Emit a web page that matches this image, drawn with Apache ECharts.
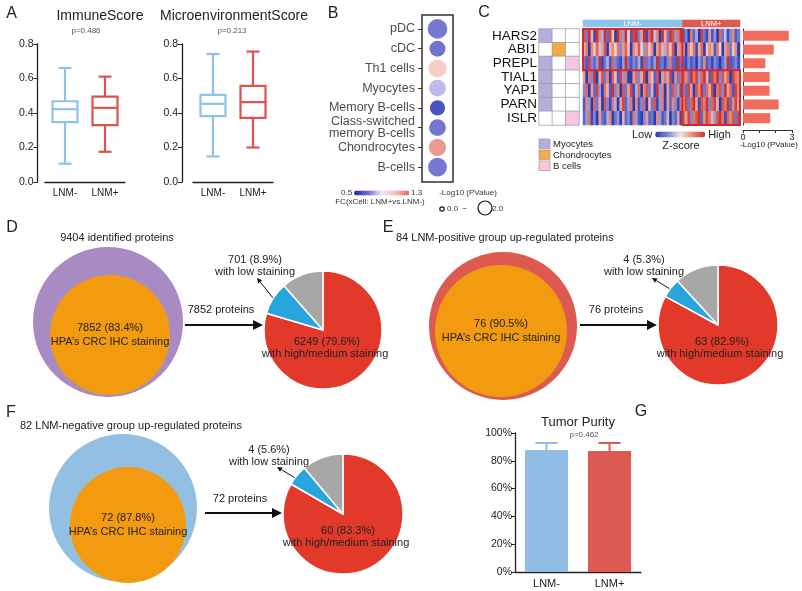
<!DOCTYPE html>
<html><head><meta charset="utf-8">
<script src="https://cdn.jsdelivr.net/npm/echarts/dist/echarts.min.js"></script>
<style>html,body{margin:0;padding:0;background:#fff}#c{width:802px;height:591px}</style>
</head><body><div id="c"></div><script>
const FONT = "'Liberation Sans', Arial, Helvetica, sans-serif";
// ---------- Panel A ----------
const groups = ['LNM-', 'LNM+'];
const groupColors = ['#8ec3e6', '#d9534f'];
const immuneBox = [[0.106, 0.347, 0.422, 0.468, 0.661], [0.175, 0.330, 0.430, 0.495, 0.611]];
const microBox = [[0.148, 0.382, 0.453, 0.505, 0.742], [0.200, 0.372, 0.463, 0.557, 0.756]];
// ---------- Panel B ----------
const cellTypes = ['pDC', 'cDC', 'Th1 cells', 'Myocytes', 'Memory B-cells', 'Class-switched\nmemory B-cells', 'Chondrocytes', 'B-cells'];
const cellFC = [0.64, 0.62, 1.1, 0.8, 0.5, 0.63, 1.25, 0.64];
const cellLogP = [1.95, 1.5, 1.75, 1.6, 1.4, 1.6, 1.65, 1.85];
// ---------- Panel C ----------
const genes = ['HARS2', 'ABI1', 'PREPL', 'TIAL1', 'YAP1', 'PARN', 'ISLR'];
const geneLogP = [2.8, 1.88, 1.37, 1.63, 1.63, 2.18, 1.67];
const annotTypes = ['Myocytes', 'Chondrocytes', 'B cells'];
const annotColors = ['#b5aedb', '#f4a94b', '#f8c6e2'];
const geneAnnot = [[1, 0, 0], [0, 1, 0], [1, 0, 1], [1, 0, 0], [1, 0, 0], [1, 0, 0], [0, 0, 1]];
const nNeg = 38, nPos = 22;
const zHARS2 = [0.8,-0.6,1.2,0.3,-0.9,1.0,0.5,-0.3,1.3,-0.7,0.9,0.2,-1.0,1.1,0.6,-0.4,1.4,0.1,-0.8,0.9,1.2,-0.5,0.4,1.0,-0.9,0.7,1.3,-0.2,0.5,-1.1,1.0,0.3,-0.6,1.2,0.8,-0.4,0.6,1.1,
  -0.8,-0.5,-1.0,0.6,-0.7,-0.3,-1.1,0.9,-0.6,-0.9,0.4,-0.8,-0.4,-1.0,0.7,-0.6,-0.2,-0.9,-0.5,0.5,-0.8,-0.6];
const zABI1 = [0.3,0.6,-1.4,0.5,0.2,0.7,-0.2,0.4,0.8,-1.6,0.3,0.5,0.1,0.6,-0.5,0.4,0.7,0.2,-1.2,0.5,0.3,0.8,0.1,-0.4,0.6,0.2,0.5,-1.5,0.4,0.7,0.3,-0.3,0.6,0.2,0.8,-1.0,0.4,0.5,
  0.4,-1.2,0.5,0.2,0.6,-0.9,0.3,0.7,-1.5,0.2,0.5,0.3,-0.8,0.6,0.1,-1.3,0.4,0.6,-0.6,0.2,0.5,-1.0];
const zPREPL = [-0.6,-0.8,0.9,-0.5,-0.7,-0.4,1.1,-0.9,-0.6,-0.3,-0.8,0.7,-0.5,-0.7,-0.9,-0.4,1.3,-0.6,-0.8,-0.5,-0.7,-0.3,-0.9,0.8,-0.6,-0.5,-0.8,-0.4,1.0,-0.7,-0.6,-0.9,-0.5,0.6,-0.7,-0.8,1.2,-0.6,
  -0.7,-0.9,-0.5,-0.8,-0.6,-1.0,-0.4,-0.7,0.5,-0.8,-0.6,-0.9,-0.5,-0.7,-1.2,-0.6,-0.4,1.0,-0.8,-0.7,-0.5,-0.9];
const zTIAL1 = [0.4,-1.0,0.6,-0.5,1.0,-1.4,0.3,0.8,-0.6,0.5,-1.6,0.7,0.2,-0.8,0.9,-0.4,0.6,-1.8,-1.2,0.4,0.7,-0.5,0.3,0.9,-1.0,0.5,0.2,-0.7,0.8,-1.3,0.4,0.6,-0.3,0.9,-0.9,0.5,-0.6,0.7,
  0.8,0.5,-0.6,1.0,0.6,0.9,-0.4,0.7,1.1,0.3,-0.8,0.9,0.6,1.0,-0.5,0.8,0.4,0.7,-1.2,0.9,0.6,0.5];
const zYAP1 = [-0.5,0.7,-1.2,0.4,-0.7,0.9,-0.4,-1.0,0.6,0.3,-0.8,1.0,-0.5,0.5,-1.3,0.8,-0.6,0.4,0.9,-0.9,-0.3,0.7,-1.1,0.5,0.8,-0.6,0.3,-0.9,1.0,-0.4,0.6,-1.4,0.4,-0.7,0.8,-0.5,0.5,-0.8,
  0.6,-0.7,0.9,0.4,-1.0,0.8,0.5,1.0,-0.6,0.7,0.3,0.9,-1.3,0.6,0.8,-0.5,1.0,0.4,0.7,-0.8,0.9,0.5];
const zPARN = [-0.8,0.5,-0.4,-1.0,0.7,-0.6,0.3,-1.2,0.8,-0.5,-0.9,0.6,-0.3,-1.1,0.4,0.9,-0.7,-0.4,0.6,-1.3,0.5,-0.8,-0.5,0.7,-1.0,0.3,-0.6,0.8,-0.9,-0.4,0.6,-1.1,0.4,-0.7,0.5,-0.5,-0.9,0.6,
  0.5,0.9,-0.6,0.7,1.0,0.4,-0.9,0.8,0.6,1.1,-0.5,0.7,0.9,0.3,-1.0,0.8,0.6,1.0,-0.7,0.5,0.9,0.4];
const zISLR = [-0.7,-0.4,0.6,-0.9,-0.5,-1.1,0.4,-0.6,-0.8,-0.3,0.5,-1.0,-0.6,-0.4,-1.3,0.3,-0.7,-0.5,-0.9,0.6,-0.4,-0.8,-1.2,-0.5,0.4,-0.7,-0.6,-1.0,0.5,-0.4,-0.8,-0.6,0.3,-1.1,-0.5,-0.7,0.4,-0.9,
  0.7,0.4,0.9,-0.5,0.6,0.8,1.0,-0.7,0.5,0.9,0.6,0.3,-0.4,0.8,1.0,0.6,-0.9,0.7,0.5,0.8,-0.6,0.9];
const zRows = [zHARS2, zABI1, zPREPL, zTIAL1, zYAP1, zPARN, zISLR];
// ---------- Panels D/E/F ----------
const stainNames = ['high/medium', 'low', 'other'];
const stainColors = ['#e2392b', '#27a6de', '#a7a7a7'];
const totalD = 9404, hpaD = 7852, pieD = [6249, 701, 902];
const totalE = 84, hpaE = 76, pieE = [63, 4, 9];
const totalF = 82, hpaF = 72, pieF = [60, 4, 8];
const hpaPct = ['83.4%', '90.5%', '87.8%'];
const piePct = [['79.6%', '8.9%'], ['82.9%', '5.3%'], ['83.3%', '5.6%']];
// ---------- Panel G ----------
const purityMean = [87.8, 87.1];
const purityUpper = [92.8, 92.8];
const purityColors = ['#8fbde3', '#dc5a52'];

// ====================================================
const axisBlack = { show: true, lineStyle: { color: '#222', width: 1.3 } };
function txt(x, y, s, size, o) {
  o = o || {};
  return { type: 'text', x: x, y: y, silent: true, z: 50,
    style: { text: s, fontSize: size, fontFamily: FONT, fill: o.fill || '#222', align: o.align || 'center', verticalAlign: 'middle', fontWeight: o.weight || 'normal', lineHeight: o.lh } };
}
function arrow(x1, y1, x2, y2, w, head) {
  const a = Math.atan2(y2 - y1, x2 - x1);
  const bx = x2 - head * Math.cos(a), by = y2 - head * Math.sin(a);
  const px = Math.sin(a) * head * 0.5, py = -Math.cos(a) * head * 0.5;
  return { type: 'group', silent: true, z: 50, children: [
    { type: 'line', shape: { x1: x1, y1: y1, x2: bx, y2: by }, style: { stroke: '#111', lineWidth: w } },
    { type: 'polygon', shape: { points: [[x2, y2], [bx + px, by + py], [bx - px, by - py]] }, style: { fill: '#111' } }
  ] };
}
// box-and-whisker drawn through the axis scales: [min, Q1, median, Q3, max]
function boxSeries(data, idx) {
  return { type: 'custom', xAxisIndex: idx, yAxisIndex: idx, silent: true,
    data: data.map((d, i) => [i].concat(d)),
    encode: { x: 0, y: [1, 2, 3, 4, 5] },
    renderItem: function (params, api) {
      const x = api.value(0), c = groupColors[params.dataIndex];
      const p = [1, 2, 3, 4, 5].map(k => api.coord([x, api.value(k)]));
      const cx = p[0][0], hw = 12.5, cw = 6.5;
      const st = { stroke: c, lineWidth: 2.2, fill: 'none' };
      return { type: 'group', children: [
        { type: 'rect', shape: { x: cx - hw, y: p[3][1], width: hw * 2, height: p[1][1] - p[3][1] }, style: { stroke: c, lineWidth: 2.2, fill: '#fff' } },
        { type: 'line', shape: { x1: cx - hw, y1: p[2][1], x2: cx + hw, y2: p[2][1] }, style: st },
        { type: 'line', shape: { x1: cx, y1: p[3][1], x2: cx, y2: p[4][1] }, style: st },
        { type: 'line', shape: { x1: cx, y1: p[1][1], x2: cx, y2: p[0][1] }, style: st },
        { type: 'line', shape: { x1: cx - cw, y1: p[4][1], x2: cx + cw, y2: p[4][1] }, style: st },
        { type: 'line', shape: { x1: cx - cw, y1: p[0][1], x2: cx + cw, y2: p[0][1] }, style: st }
      ] };
    } };
}
function scoreYAxis(idx, off) {
  return { type: 'value', gridIndex: idx, min: 0, max: 0.8, interval: 0.2, offset: off,
    axisLine: axisBlack, axisTick: { show: true, length: 4, lineStyle: { color: '#222' } }, splitLine: { show: false },
    axisLabel: { fontSize: 10.5, color: '#222', fontFamily: FONT, margin: 4, formatter: v => v.toFixed(1) } };
}
function groupXAxis(idx, size) {
  return { type: 'category', gridIndex: idx, data: groups, axisLine: axisBlack, axisTick: { show: false },
    axisLabel: { fontSize: size, color: '#222', fontFamily: FONT, margin: 6 } };
}
function venn(cx, cy, r, color, total) {
  return { type: 'pie', silent: true, center: [cx, cy], radius: r, startAngle: 90, label: { show: false },
    data: [{ value: total, itemStyle: { color: color } }] };
}
function vennInner(cx, cy, r, n, pct) {
  return { type: 'pie', silent: true, center: [cx, cy], radius: r, startAngle: 90,
    label: { show: true, position: 'center', formatter: n + ' (' + pct + ')\nHPA\u2019s CRC IHC staining', fontSize: 11, lineHeight: 13.5, color: '#222', fontFamily: FONT },
    labelLine: { show: false }, data: [{ value: n, itemStyle: { color: '#f29a10' } }] };
}
function stainPie(cx, cy, r, vals) {
  return { type: 'pie', silent: true, center: [cx, cy], radius: r, startAngle: 90, clockwise: true, label: { show: false },
    itemStyle: { borderColor: '#fff', borderWidth: 1.5 },
    data: vals.map((v, i) => ({ name: stainNames[i], value: v, itemStyle: { color: stainColors[i] } })) };
}
function pieTexts(cx, cy, hi, hiPct, lo, loPct, lx, ly, a1, a2) {
  return [
    txt(cx + 2, cy + 12, hi + ' (' + hiPct + ')', 11),
    txt(cx, cy + 24, 'with high/medium staining', 11),
    txt(lx, ly, lo + ' (' + loPct + ')', 11),
    txt(lx, ly + 12, 'with low staining', 11),
    arrow(a1[0], a1[1], a2[0], a2[1], 1, 5)
  ];
}

const cols = Array.from({ length: nNeg + nPos }, (_, i) => 'S' + (i + 1));
const heatData = [];
zRows.forEach((row, r) => row.forEach((v, c) => heatData.push([c, r, v])));
const annotData = [];
geneAnnot.forEach((row, r) => row.forEach((v, c) => annotData.push([c, r, v ? c + 1 : 0])));
const headerData = cols.map((_, i) => [i, 0, i < nNeg ? 0 : 1]);

const grids = [
  { left: 45, top: 44, width: 80, height: 138 },   // A immune
  { left: 193, top: 44, width: 80, height: 138 },  // A micro
  { left: 422, top: 19, width: 31, height: 158 },  // B
  { left: 539, top: 29, width: 40, height: 96 },   // C annotation
  { left: 583, top: 20, width: 157, height: 7 },   // C header
  { left: 583, top: 29, width: 157, height: 96 },  // C heatmap
  { left: 743, top: 29, width: 49, height: 96 },   // C bars
  { left: 515, top: 433, width: 126, height: 139 } // G
].map(g => Object.assign({ outerBoundsMode: 'none', containLabel: false }, g));

const hidden = { show: false };
const option = {
  animation: false,
  backgroundColor: '#fff',
  textStyle: { fontFamily: FONT },
  grid: grids,
  xAxis: [
    groupXAxis(0, 10),
    groupXAxis(1, 10),
    { type: 'category', gridIndex: 2, data: [''], show: false },
    { type: 'category', gridIndex: 3, data: annotTypes, show: false },
    { type: 'category', gridIndex: 4, data: cols, show: false },
    { type: 'category', gridIndex: 5, data: cols, show: false },
    { type: 'value', gridIndex: 6, min: 0, max: 3, interval: 1, offset: 5, splitLine: hidden,
      axisLine: { show: true, lineStyle: { color: '#333', width: 1 } }, axisTick: { show: true, length: 3, inside: false, lineStyle: { color: '#333' } },
      axisLabel: { fontSize: 9, color: '#222', margin: 3, formatter: v => (v === 0 || v === 3) ? String(v) : '' } },
    groupXAxis(7, 11)
  ],
  yAxis: [
    scoreYAxis(0, 7.5),
    scoreYAxis(1, 11),
    { type: 'category', gridIndex: 2, data: cellTypes, inverse: true, axisLine: hidden,
      axisTick: { show: true, alignWithLabel: true, length: 4, lineStyle: { color: '#333' } },
      axisLabel: { interval: 0, fontSize: 12.5, color: '#4d4d4d', fontFamily: FONT, margin: 7, lineHeight: 11.5 } },
    { type: 'category', gridIndex: 3, data: genes, inverse: true, axisLine: hidden, axisTick: hidden,
      axisLabel: { interval: 0, fontSize: 13.5, color: '#111', fontFamily: FONT, margin: 2 } },
    { type: 'category', gridIndex: 4, data: ['group'], show: false },
    { type: 'category', gridIndex: 5, data: genes, inverse: true, show: false },
    { type: 'category', gridIndex: 6, data: genes, inverse: true, axisLine: { show: true, lineStyle: { color: '#333' } }, axisTick: hidden, axisLabel: hidden },
    { type: 'value', gridIndex: 7, min: 0, max: 100, interval: 20, splitLine: hidden, axisLine: axisBlack,
      axisTick: { show: true, length: 4, lineStyle: { color: '#222' } },
      axisLabel: { fontSize: 10.5, color: '#222', margin: 3, formatter: v => v + '%' } }
  ],
  visualMap: [
    { type: 'continuous', seriesIndex: 2, dimension: 2, min: 0.5, max: 1.3, orient: 'horizontal', left: 341, top: 189, padding: 0,
      itemWidth: 5, itemHeight: 55, text: ['1.3', '0.5'], textGap: 2, calculable: false, hoverLink: false,
      textStyle: { fontSize: 8, color: '#333', fontFamily: FONT },
      inRange: { color: ['#1a28ae', '#6b6bd4', '#ebe8f5', '#f4c2b8', '#e36b5a'] } },
    { type: 'piecewise', seriesIndex: 3, show: false, dimension: 2,
      pieces: [{ value: 0, color: '#ffffff' }, { value: 1, color: annotColors[0] }, { value: 2, color: annotColors[1] }, { value: 3, color: annotColors[2] }] },
    { type: 'piecewise', seriesIndex: 4, show: false, dimension: 2,
      pieces: [{ value: 0, color: '#8cc3e8' }, { value: 1, color: '#dc5a4e' }] },
    { type: 'continuous', seriesIndex: 5, dimension: 2, min: -1.0, max: 1.0, orient: 'horizontal', left: 632, top: 129, padding: 0,
      itemWidth: 6, itemHeight: 50, text: ['High', 'Low'], textGap: 3, calculable: false, hoverLink: false,
      textStyle: { fontSize: 11, color: '#222', fontFamily: FONT },
      inRange: { color: ['#2a3cb4', '#7f86d6', '#f2e4e2', '#e58a7a', '#cc3232'] } }
  ],
  series: [
    boxSeries(immuneBox, 0),
    boxSeries(microBox, 1),
    { type: 'scatter', xAxisIndex: 2, yAxisIndex: 2, silent: true,
      data: cellTypes.map((c, i) => [0, i, cellFC[i], cellLogP[i]]),
      symbolSize: v => 4 + 8 * v[3] },
    { type: 'heatmap', xAxisIndex: 3, yAxisIndex: 3, silent: true, data: annotData,
      itemStyle: { borderColor: '#9a9a9a', borderWidth: 0.7 } },
    { type: 'heatmap', xAxisIndex: 4, yAxisIndex: 4, silent: true, data: headerData },
    { type: 'heatmap', xAxisIndex: 5, yAxisIndex: 5, silent: true, data: heatData },
    { type: 'custom', xAxisIndex: 5, yAxisIndex: 5, silent: true, z: 10,
      data: [[0, nNeg - 1, 0, 2], [nNeg, nNeg + nPos - 1, 3, 6]],
      encode: { x: [0, 1], y: [2, 3] },
      renderItem: function (params, api) {
        const p0 = api.coord([api.value(0), api.value(2)]);
        const p1 = api.coord([api.value(1), api.value(3)]);
        const s = api.size([1, 1]);
        return { type: 'rect', shape: { x: p0[0] - s[0] / 2, y: p0[1] - s[1] / 2, width: p1[0] - p0[0] + s[0], height: p1[1] - p0[1] + s[1] },
          style: { fill: 'none', stroke: '#d42a2a', lineWidth: 2 } };
      } },
    { type: 'bar', xAxisIndex: 6, yAxisIndex: 6, silent: true, data: geneLogP, barWidth: 10, itemStyle: { color: '#f36b5c' } },
    venn(108, 322, 75, '#a98bc3', totalD),
    vennInner(110, 335, 60, hpaD, hpaPct[0]),
    stainPie(323, 330, 59, pieD),
    venn(503, 326, 74, '#dc5a50', totalE),
    vennInner(501, 331, 66, hpaE, hpaPct[1]),
    stainPie(718, 325, 60, pieE),
    venn(123, 508, 74, '#92bfe2', totalF),
    vennInner(128, 525, 58, hpaF, hpaPct[2]),
    stainPie(343, 514, 60, pieF),
    { type: 'bar', xAxisIndex: 7, yAxisIndex: 7, silent: true, barWidth: 43,
      data: purityMean.map((v, i) => ({ value: v, itemStyle: { color: purityColors[i] } })) },
    { type: 'custom', xAxisIndex: 7, yAxisIndex: 7, silent: true, z: 5,
      data: purityMean.map((m, i) => [i, m, purityUpper[i]]),
      renderItem: function (params, api) {
        const a = api.coord([api.value(0), api.value(1)]);
        const b = api.coord([api.value(0), api.value(2)]);
        const c = purityColors[params.dataIndex];
        return { type: 'group', children: [
          { type: 'line', shape: { x1: a[0], y1: a[1], x2: b[0], y2: b[1] }, style: { stroke: c, lineWidth: 2 } },
          { type: 'line', shape: { x1: b[0] - 11, y1: b[1], x2: b[0] + 11, y2: b[1] }, style: { stroke: c, lineWidth: 2 } }
        ] };
      } }
  ],
  graphic: []
};

const chart = echarts.init(document.getElementById('c'), null, { renderer: 'canvas' });
chart.setOption(option);

const hx0 = chart.convertToPixel({ xAxisIndex: 4 }, 0), hx1 = chart.convertToPixel({ xAxisIndex: 4 }, nNeg - 1);
const hx2 = chart.convertToPixel({ xAxisIndex: 4 }, nNeg), hx3 = chart.convertToPixel({ xAxisIndex: 4 }, nNeg + nPos - 1);
const hy = chart.convertToPixel({ yAxisIndex: 4 }, 0);
const g = [
  txt(11.5, 14, 'A', 16), txt(333, 14, 'B', 16), txt(484, 13, 'C', 16),
  txt(12, 228, 'D', 16), txt(388, 228, 'E', 16), txt(11, 413, 'F', 16), txt(641, 412, 'G', 16),
  txt(100, 16, 'ImmuneScore', 14), txt(86, 31, 'p=0.486', 8, { fill: '#555' }),
  txt(234, 16, 'MicroenvironmentScore', 14), txt(232, 31, 'p=0.213', 8, { fill: '#555' }),
  { type: 'rect', shape: { x: 422, y: 15, width: 31, height: 167 }, style: { fill: 'none', stroke: '#333', lineWidth: 1.5 }, silent: true, z: 40 },
  txt(380, 202, 'FC(xCell: LNM+vs.LNM-)', 8, { fill: '#333' }),
  txt(468, 193, '-Log10 (PValue)', 8, { fill: '#333' }),
  { type: 'circle', shape: { cx: 442, cy: 209, r: 2.2 }, style: { fill: 'none', stroke: '#111', lineWidth: 1.2 }, silent: true },
  txt(447, 209, '0.0  \u2212', 8, { fill: '#333', align: 'left' }),
  { type: 'circle', shape: { cx: 485, cy: 208, r: 7 }, style: { fill: 'none', stroke: '#111', lineWidth: 1.2 }, silent: true },
  txt(492, 209, '2.0', 8, { fill: '#333', align: 'left' }),
  txt((hx0 + hx1) / 2, hy, groups[0], 7.5, { fill: '#fff' }),
  txt((hx2 + hx3) / 2, hy, groups[1], 7.5, { fill: '#fff' }),
  txt(681, 146, 'Z-score', 11),
  txt(769, 145, '-Log10 (PValue)', 8),
  txt(117, 238, totalD + ' identified proteins', 11),
  arrow(185, 325, 263, 325, 2, 10),
  txt(221, 310, hpaD + ' proteins', 11),
  txt(396, 238, totalE + ' LNM-positive group up-regulated proteins', 11, { align: 'left' }),
  arrow(580, 325, 657, 325, 2, 10),
  txt(616, 310, hpaE + ' proteins', 11),
  txt(20, 426, totalF + ' LNM-negative group up-regulated proteins', 11, { align: 'left' }),
  arrow(205, 513, 282, 513, 2, 10),
  txt(240, 499, hpaF + ' proteins', 11),
  txt(578, 422, 'Tumor Purity', 13),
  txt(584, 435, 'p=0.462', 8, { fill: '#555' })
].concat(
  pieTexts(325, 330, pieD[0], piePct[0][0], pieD[1], piePct[0][1], 255, 260, [273, 298], [257, 278]),
  pieTexts(720, 330, pieE[0], piePct[1][0], pieE[1], piePct[1][1], 644, 260, [670, 289], [652, 278]),
  pieTexts(346, 519, pieF[0], piePct[2][0], pieF[1], piePct[2][1], 269, 450, [297, 479], [277, 467])
);
annotTypes.forEach((t, i) => {
  g.push({ type: 'rect', shape: { x: 539, y: 139 + i * 11, width: 11, height: 9.5 }, style: { fill: annotColors[i], stroke: '#999', lineWidth: 0.7 }, silent: true });
  g.push(txt(553, 144 + i * 11, t, 9.5, { align: 'left' }));
});
chart.setOption({ graphic: g });
</script></body></html>
